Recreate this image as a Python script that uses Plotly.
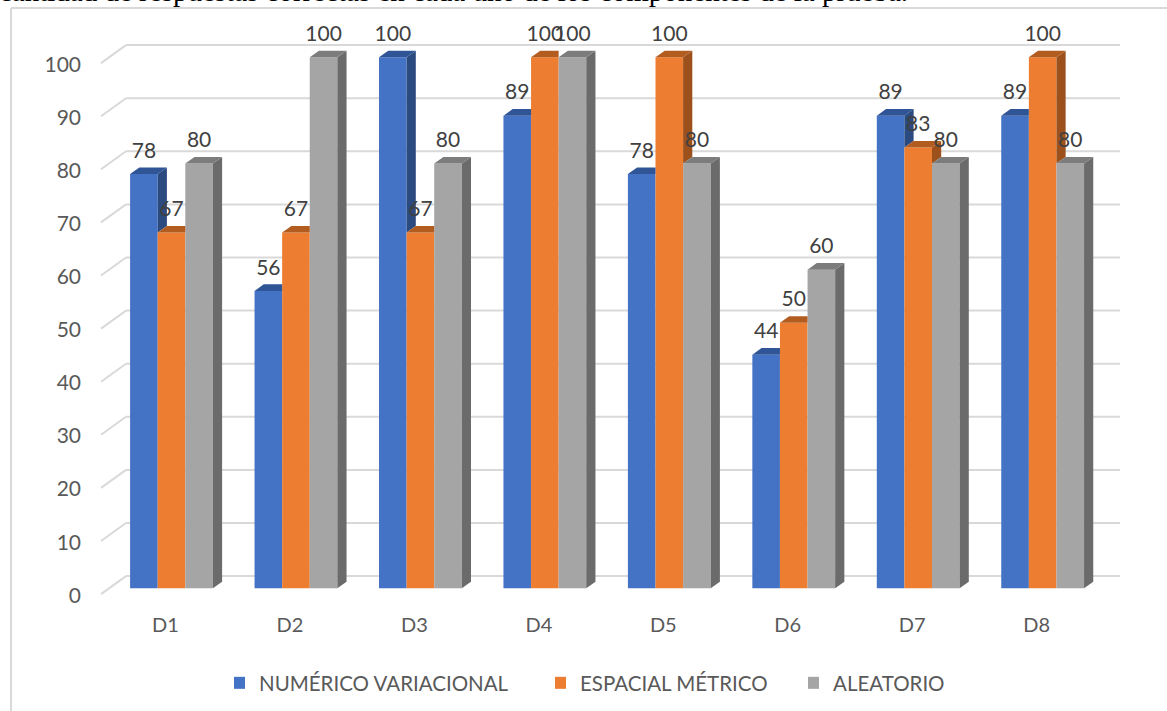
import plotly.graph_objects as go

# Chart data
categories = ["D1", "D2", "D3", "D4", "D5", "D6", "D7", "D8"]
numerico = [78, 56, 100, 89, 78, 44, 89, 89]
espacial = [67, 67, 67, 100, 100, 50, 83, 100]
aleatorio = [80, 100, 80, 100, 80, 60, 80, 80]
y_ticks = [0, 10, 20, 30, 40, 50, 60, 70, 80, 90, 100]
series_names = ["NUMÉRICO VARIACIONAL", "ESPACIAL MÉTRICO", "ALEATORIO"]
series_values = [numerico, espacial, aleatorio]

# Face colours: front, top, side
front_colors = ["#4472C4", "#ED7D31", "#A5A5A5"]
top_colors = ["#2F5597", "#B35C20", "#7C7C7C"]
side_colors = ["#2B4A80", "#9C511C", "#6B6B6B"]

FONT = "Lato, Open Sans, sans-serif"
WIDTH, HEIGHT = 1167, 711
LEFT, RIGHT, TOP, BOTTOM = 88, 1120, 10, 605

# Pixel scale of the axes
PX_PER_CAT = 124.45
PX_PER_UNIT = 5.31
X_RANGE = [(LEFT - 171.5) / PX_PER_CAT, (RIGHT - 171.5) / PX_PER_CAT]
Y_RANGE = [(588.3 - BOTTOM) / PX_PER_UNIT, (588.3 - TOP) / PX_PER_UNIT]

BAR_W = 27.6 / PX_PER_CAT
BAR_DX = 9.2 / PX_PER_CAT      # depth of a bar, horizontally
BAR_DY = 6.6 / PX_PER_UNIT     # depth of a bar, vertically
LABEL_GAP = 4.5 / PX_PER_UNIT  # extra lift of the value labels
WALL_DX = 25 / PX_PER_CAT      # floor depth to the back wall
WALL_DY = 18 / PX_PER_UNIT
FRONT_X = (101 - 171.5) / PX_PER_CAT
FRONT_DY = -5.8 / PX_PER_UNIT  # axis plane sits slightly below the bar fronts
WALL_END = (1120 - 171.5) / PX_PER_CAT

fig = go.Figure()

# Front faces
for s, (name, values) in enumerate(zip(series_names, series_values)):
    fig.add_trace(go.Bar(
        x=[i + (s - 1) * BAR_W for i in range(len(categories))],
        y=values, width=BAR_W, name=name,
        marker=dict(color=front_colors[s], line=dict(width=0)),
        legend="legend" if s == 0 else f"legend{s + 1}",
    ))


def polygon(xs, ys, color):
    fig.add_trace(go.Scatter(
        x=xs + xs[:1], y=ys + ys[:1], mode="lines", fill="toself",
        fillcolor=color, line=dict(width=0, color=color),
        showlegend=False, hoverinfo="skip",
    ))


# Side and top faces, cut where the next bar in the group hides them
for s, values in enumerate(series_values):
    for i, v in enumerate(values):
        x0 = i + (s - 1.5) * BAR_W
        x1 = x0 + BAR_W
        nxt = series_values[s + 1][i] if s < 2 else 0
        if v > nxt:
            polygon([x1, x1 + BAR_DX, x1 + BAR_DX, x1],
                    [nxt, nxt + BAR_DY, v + BAR_DY, v], side_colors[s])
            polygon([x0, x1, x1 + BAR_DX, x0 + BAR_DX],
                    [v, v, v + BAR_DY, v + BAR_DY], top_colors[s])
        else:
            polygon([x0, x1, x1, x0 + BAR_DX],
                    [v, v, v + BAR_DY, v + BAR_DY], top_colors[s])

# Value labels
for s, values in enumerate(series_values):
    fig.add_trace(go.Scatter(
        x=[i + (s - 1) * BAR_W for i in range(len(categories))],
        y=[v + BAR_DY + LABEL_GAP for v in values],
        mode="text", text=[str(v) for v in values], textposition="top center",
        textfont=dict(family=FONT, size=21, color="#404040"),
        showlegend=False, hoverinfo="skip", cliponaxis=False,
    ))

# Gridlines on the back wall, with the slanted run across the side wall
shapes = []
for t in y_ticks:
    front_y = t + FRONT_DY
    wall_y = front_y + WALL_DY
    for x0, y0, x1, y1 in [(FRONT_X, front_y, FRONT_X + WALL_DX, wall_y),
                           (FRONT_X + WALL_DX, wall_y, WALL_END, wall_y)]:
        shapes.append(dict(type="line", xref="x", yref="y", layer="below",
                           x0=x0, y0=y0, x1=x1, y1=y1,
                           line=dict(color="#D9D9D9", width=2)))

# Chart frame
px = lambda p: (p - LEFT) / (RIGHT - LEFT)
py = lambda p: (BOTTOM - p) / (BOTTOM - TOP)
for x0, y0, x1, y1 in [(11, 8, 11, HEIGHT), (11, 8, WIDTH, 8)]:
    shapes.append(dict(type="line", xref="paper", yref="paper", layer="below",
                       x0=px(x0), y0=py(y0), x1=px(x1), y1=py(y1),
                       line=dict(color="#D9D9D9", width=2)))


def legend_at(left):
    return dict(x=px(left), y=py(683), xanchor="left", yanchor="middle",
                orientation="h", bgcolor="rgba(0,0,0,0)", indentation=-15,
                font=dict(family=FONT, size=20.5, color="#595959"))


fig.update_layout(
    width=WIDTH, height=HEIGHT, autosize=False,
    margin=dict(l=LEFT, r=WIDTH - RIGHT, t=TOP, b=HEIGHT - BOTTOM, autoexpand=False),
    paper_bgcolor="white", plot_bgcolor="rgba(0,0,0,0)",
    shapes=shapes, barmode="overlay",
    legend=legend_at(234), legend2=legend_at(555), legend3=legend_at(808),
    annotations=[dict(
        text="cantidad de respuestas correctas en cada uno de los componentes de la prueba.",
        xref="paper", yref="paper", x=px(910), y=py(9), xanchor="right", yanchor="bottom",
        showarrow=False, font=dict(family="Liberation Serif, serif", size=29, color="black"),
    )],
    xaxis=dict(range=X_RANGE, tickvals=list(range(len(categories))), ticktext=categories,
               showgrid=False, zeroline=False, showline=False, ticks="",
               ticklabelshift=-6, ticklabelstandoff=6,
               tickfont=dict(family=FONT, size=20, color="#595959")),
    yaxis=dict(range=Y_RANGE, tickvals=y_ticks, showgrid=False, zeroline=False, showline=False,
               ticks="", ticklabelshift=7, ticklabelstandoff=6,
               tickfont=dict(family=FONT, size=21, color="#595959")),
)

fig.write_html("out.html")
